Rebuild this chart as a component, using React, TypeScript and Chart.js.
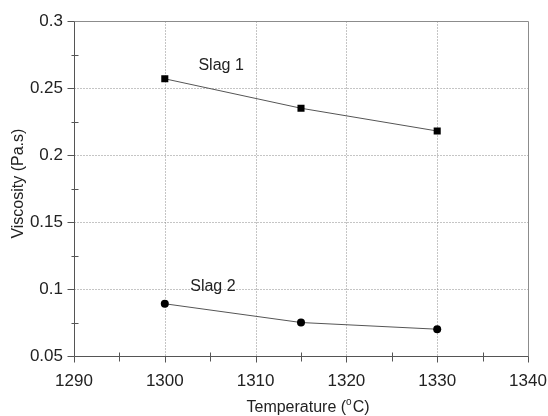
import React, { useEffect, useRef } from 'react';
import { Chart, registerables } from 'chart.js';

Chart.register(...registerables);

const temperatures = [1300, 1315, 1330];
const slag1 = [0.257, 0.235, 0.218];
const slag2 = [0.089, 0.075, 0.07];
const xMajor = [1290, 1300, 1310, 1320, 1330, 1340];
const xMinor = [1295, 1305, 1315, 1325, 1335];
const yMajor = [0.05, 0.1, 0.15, 0.2, 0.25, 0.3];
const yMinor = [0.075, 0.125, 0.175, 0.225, 0.275];
const seriesNames = ['Slag 1', 'Slag 2'];
const nameAnchorX = [1306.2, 1305.3];
const nameAnchorY = [0.267, 0.102];
const xTitleParts = ['Temperature (', 'o', 'C)'];
const yTitle = 'Viscosity (Pa.s)';

const FONT = '"Liberation Sans", Arial, sans-serif';

const framePlugin = {
  id: 'framePlugin',
  beforeDatasetsDraw(chart: any) {
    const { ctx, chartArea } = chart;
    const xs = chart.scales.x;
    const ys = chart.scales.y;
    const L = Math.round(chartArea.left) + 0.5;
    const R = Math.round(chartArea.right) + 0.5;
    const T = Math.round(chartArea.top) + 0.5;
    const B = Math.round(chartArea.bottom) + 0.5;
    ctx.save();
    ctx.strokeStyle = '#8a8a8a';
    ctx.lineWidth = 1;
    ctx.setLineDash([1, 2]);
    xMajor.slice(1, -1).forEach((v) => {
      const px = Math.round(xs.getPixelForValue(v)) + 0.5;
      ctx.beginPath();
      ctx.moveTo(px, T);
      ctx.lineTo(px, B);
      ctx.stroke();
    });
    yMajor.slice(1, -1).forEach((v) => {
      const py = Math.round(ys.getPixelForValue(v)) + 0.5;
      ctx.beginPath();
      ctx.moveTo(L, py);
      ctx.lineTo(R, py);
      ctx.stroke();
    });
    ctx.setLineDash([]);
    ctx.strokeStyle = '#8c8c8c';
    ctx.beginPath();
    ctx.moveTo(L, T);
    ctx.lineTo(R, T);
    ctx.lineTo(R, B);
    ctx.stroke();
    ctx.strokeStyle = '#555';
    ctx.beginPath();
    ctx.moveTo(L, T);
    ctx.lineTo(L, B);
    ctx.lineTo(R, B);
    ctx.stroke();
    ctx.beginPath();
    yMajor.forEach((v) => {
      const py = Math.round(ys.getPixelForValue(v)) + 0.5;
      ctx.moveTo(L - 7, py);
      ctx.lineTo(L, py);
    });
    yMinor.forEach((v) => {
      const py = Math.round(ys.getPixelForValue(v)) + 0.5;
      ctx.moveTo(L - 3, py);
      ctx.lineTo(L + 4, py);
    });
    xMajor.forEach((v) => {
      const px = Math.round(xs.getPixelForValue(v)) + 0.5;
      ctx.moveTo(px, B);
      ctx.lineTo(px, B + 6);
    });
    xMinor.forEach((v) => {
      const px = Math.round(xs.getPixelForValue(v)) + 0.5;
      ctx.moveTo(px, B - 4);
      ctx.lineTo(px, B + 5);
    });
    ctx.stroke();
    ctx.restore();
  },
  afterDatasetsDraw(chart: any) {
    const { ctx, chartArea } = chart;
    const xs = chart.scales.x;
    const ys = chart.scales.y;
    ctx.save();
    ctx.fillStyle = '#222';
    ctx.font = '16px ' + FONT;
    ctx.textAlign = 'center';
    ctx.textBaseline = 'middle';
    seriesNames.forEach((name, i) => {
      ctx.fillText(name, xs.getPixelForValue(nameAnchorX[i]), ys.getPixelForValue(nameAnchorY[i]));
    });

    // x axis title with superscript
    const big = '16px ' + FONT;
    const small = '10px ' + FONT;
    ctx.textAlign = 'left';
    ctx.textBaseline = 'alphabetic';
    ctx.font = big;
    const w0 = ctx.measureText(xTitleParts[0]).width;
    const w2 = ctx.measureText(xTitleParts[2]).width;
    ctx.font = small;
    const w1 = ctx.measureText(xTitleParts[1]).width + 1;
    const total = w0 + w1 + w2;
    const cx = (chartArea.left + chartArea.right) / 2 + 7;
    const baseY = 412;
    let x0 = cx - total / 2;
    ctx.font = big;
    ctx.fillText(xTitleParts[0], x0, baseY);
    x0 += w0;
    ctx.font = small;
    ctx.fillText(xTitleParts[1], x0, baseY - 7);
    x0 += w1;
    ctx.font = big;
    ctx.fillText(xTitleParts[2], x0, baseY);

    // y axis title
    ctx.translate(19, (chartArea.top + chartArea.bottom) / 2 - 5);
    ctx.rotate(-Math.PI / 2);
    ctx.textAlign = 'center';
    ctx.textBaseline = 'middle';
    ctx.font = big;
    ctx.fillText(yTitle, 0, 0);
    ctx.restore();
  },
};

export default function App() {
  const ref = useRef<HTMLCanvasElement | null>(null);
  useEffect(() => {
    document.body.style.margin = '0';
    if (!ref.current) return;
    const chart = new Chart(ref.current, {
      type: 'line',
      data: {
        datasets: [
          {
            label: seriesNames[0],
            data: temperatures.map((t, i) => ({ x: t, y: slag1[i] })),
            borderColor: '#555',
            borderWidth: 1,
            pointStyle: 'rect',
            pointRadius: 5,
            pointBackgroundColor: '#000',
            pointBorderColor: '#000',
            pointBorderWidth: 0,
            tension: 0,
          },
          {
            label: seriesNames[1],
            data: temperatures.map((t, i) => ({ x: t, y: slag2[i] })),
            borderColor: '#555',
            borderWidth: 1,
            pointStyle: 'circle',
            pointRadius: 4,
            pointBackgroundColor: '#000',
            pointBorderColor: '#000',
            pointBorderWidth: 0,
            tension: 0,
          },
        ],
      },
      options: {
        animation: false,
        responsive: false,
        devicePixelRatio: 1,
        layout: { padding: { left: 0, top: 21, right: 0, bottom: 0 } },
        plugins: { legend: { display: false }, tooltip: { enabled: false } },
        scales: {
          x: {
            type: 'linear',
            min: 1290,
            max: 1340,
            grid: { display: false, drawTicks: false },
            border: { display: false },
            afterBuildTicks: (s: any) => {
              s.ticks = xMajor.map((v) => ({ value: v }));
            },
            afterFit: (s: any) => {
              s.height = 60;
              s.paddingRight = 20;
            },
            ticks: {
              padding: 15,
              color: '#222',
              font: { family: FONT, size: 17 },
              maxRotation: 0,
              callback: (v: any) => String(v),
            },
            title: { display: false },
          },
          y: {
            type: 'linear',
            min: 0.05,
            max: 0.3,
            grid: { display: false, drawTicks: false },
            border: { display: false },
            afterBuildTicks: (s: any) => {
              s.ticks = yMajor.map((v) => ({ value: v }));
            },
            afterFit: (s: any) => {
              s.width = 74;
            },
            ticks: {
              padding: 11,
              color: '#222',
              font: { family: FONT, size: 17 },
              callback: (v: any) => String(Math.round(v * 1000) / 1000),
            },
            title: { display: false },
          },
        },
      },
      plugins: [framePlugin],
    });
    return () => chart.destroy();
  }, []);
  return (
    <div style={{ width: 548, height: 416, background: '#fff' }}>
      <canvas ref={ref} width={548} height={416} style={{ display: 'block' }} />
    </div>
  );
}
